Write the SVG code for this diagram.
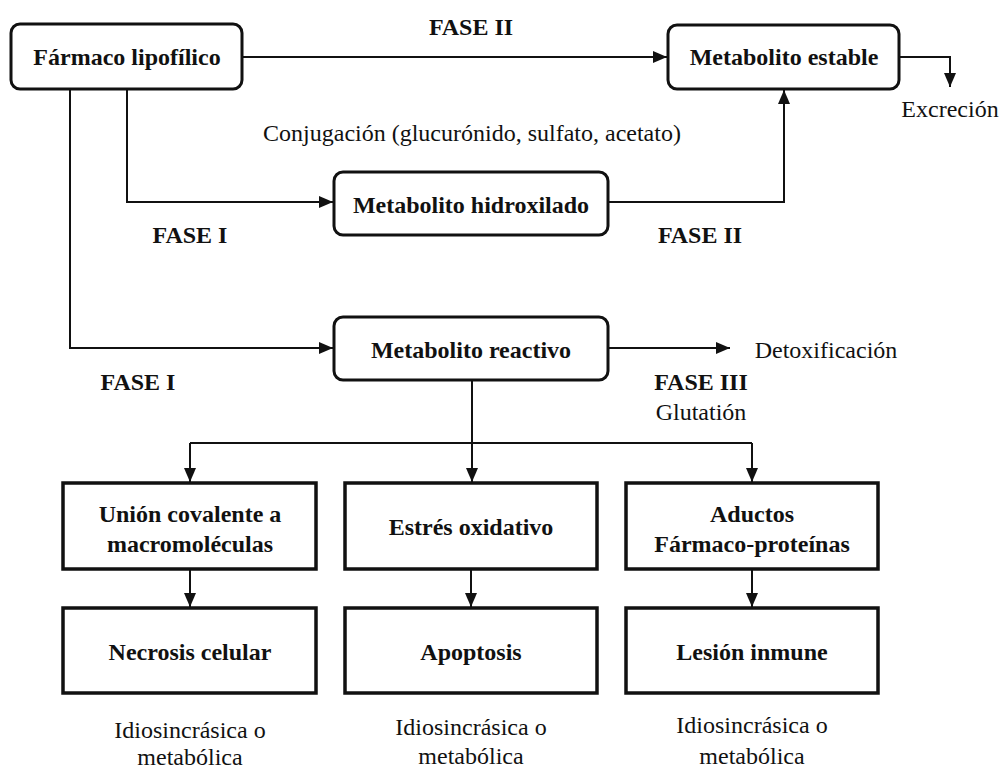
<svg xmlns="http://www.w3.org/2000/svg" width="1003" height="769" viewBox="0 0 1003 769">
<defs>
<style>
.box{fill:#fff;stroke:#111;stroke-width:3}
.sq{fill:#fff;stroke:#111;stroke-width:3.5}
text{font-family:'Liberation Serif','DejaVu Serif','Times New Roman',serif;font-size:24px;fill:#111;text-anchor:middle}
.b{font-weight:bold}
.c{fill:none;stroke:#111;stroke-width:2}
</style>
<marker id="ah" markerUnits="userSpaceOnUse" markerWidth="14" markerHeight="14" viewBox="0 0 14 14" refX="14" refY="7" orient="auto">
<path d="M0,1 L14,7 L0,13 Z" fill="#111"/>
</marker>
</defs>
<rect width="1003" height="769" fill="#fff"/>
<g id="connectors">
<path class="c" d="M242,57 H667" marker-end="url(#ah)"/>
<path class="c" d="M899,57 H950 V87" marker-end="url(#ah)"/>
<path class="c" d="M127,89 V202 H333" marker-end="url(#ah)"/>
<path class="c" d="M608,202 H784 V90" marker-end="url(#ah)"/>
<path class="c" d="M70,89 V348 H333" marker-end="url(#ah)"/>
<path class="c" d="M608,348 H730" marker-end="url(#ah)"/>
<path class="c" d="M472,380 V482" marker-end="url(#ah)"/>
<path class="c" d="M190,443 H752"/>
<path class="c" d="M190,443 V482" marker-end="url(#ah)"/>
<path class="c" d="M752,443 V482" marker-end="url(#ah)"/>
<path class="c" d="M190,569 V607" marker-end="url(#ah)"/>
<path class="c" d="M471,569 V607" marker-end="url(#ah)"/>
<path class="c" d="M752,569 V607" marker-end="url(#ah)"/>
</g>
<g id="labels">
<text class="b" x="471" y="35" font-family="Liberation Serif">FASE II</text>
<text x="950" y="117" font-family="Liberation Serif">Excreción</text>
<text x="472" y="141" font-family="Liberation Serif">Conjugación (glucurónido, sulfato, acetato)</text>
<text class="b" x="190" y="243" font-family="Liberation Serif">FASE I</text>
<text class="b" x="700" y="243" font-family="Liberation Serif">FASE II</text>
<text class="b" x="138" y="390" font-family="Liberation Serif">FASE I</text>
<text x="826" y="358" font-family="Liberation Serif">Detoxificación</text>
<text class="b" x="701" y="390" font-family="Liberation Serif">FASE III</text>
<text x="701" y="420" font-family="Liberation Serif">Glutatión</text>
<text x="190" y="738" font-family="Liberation Serif">Idiosincrásica o</text>
<text x="190" y="765" font-family="Liberation Serif">metabólica</text>
<text x="471" y="735" font-family="Liberation Serif">Idiosincrásica o</text>
<text x="471" y="764" font-family="Liberation Serif">metabólica</text>
<text x="752" y="733" font-family="Liberation Serif">Idiosincrásica o</text>
<text x="752" y="764" font-family="Liberation Serif">metabólica</text>
</g>
<g id="farmaco">
<rect class="box" x="11" y="24" width="231" height="65" rx="9"/>
<text class="b" x="127" y="65" font-family="Liberation Serif">Fármaco lipofílico</text>
</g>
<g id="estable">
<rect class="box" x="668" y="25" width="231" height="64" rx="9"/>
<text class="b" x="784" y="65" font-family="Liberation Serif">Metabolito estable</text>
</g>
<g id="hidroxilado">
<rect class="box" x="334" y="172" width="274" height="63" rx="9"/>
<text class="b" x="471" y="213" font-family="Liberation Serif">Metabolito hidroxilado</text>
</g>
<g id="reactivo">
<rect class="box" x="334" y="317" width="274" height="63" rx="9"/>
<text class="b" x="471" y="358" font-family="Liberation Serif">Metabolito reactivo</text>
</g>
<g id="union">
<rect class="sq" x="63" y="483" width="253" height="86"/>
<text class="b" x="190" y="522" font-family="Liberation Serif">Unión covalente a</text>
<text class="b" x="190" y="552" font-family="Liberation Serif">macromoléculas</text>
</g>
<g id="estres">
<rect class="sq" x="345" y="483" width="252" height="86"/>
<text class="b" x="471" y="535" font-family="Liberation Serif">Estrés oxidativo</text>
</g>
<g id="aductos">
<rect class="sq" x="626" y="483" width="252" height="86"/>
<text class="b" x="752" y="522" font-family="Liberation Serif">Aductos</text>
<text class="b" x="752" y="552" font-family="Liberation Serif">Fármaco-proteínas</text>
</g>
<g id="necrosis">
<rect class="sq" x="63" y="608" width="253" height="85"/>
<text class="b" x="190" y="660" font-family="Liberation Serif">Necrosis celular</text>
</g>
<g id="apoptosis">
<rect class="sq" x="345" y="608" width="252" height="85"/>
<text class="b" x="471" y="660" font-family="Liberation Serif">Apoptosis</text>
</g>
<g id="lesion">
<rect class="sq" x="626" y="608" width="252" height="85"/>
<text class="b" x="752" y="660" font-family="Liberation Serif">Lesión inmune</text>
</g>
</svg>
